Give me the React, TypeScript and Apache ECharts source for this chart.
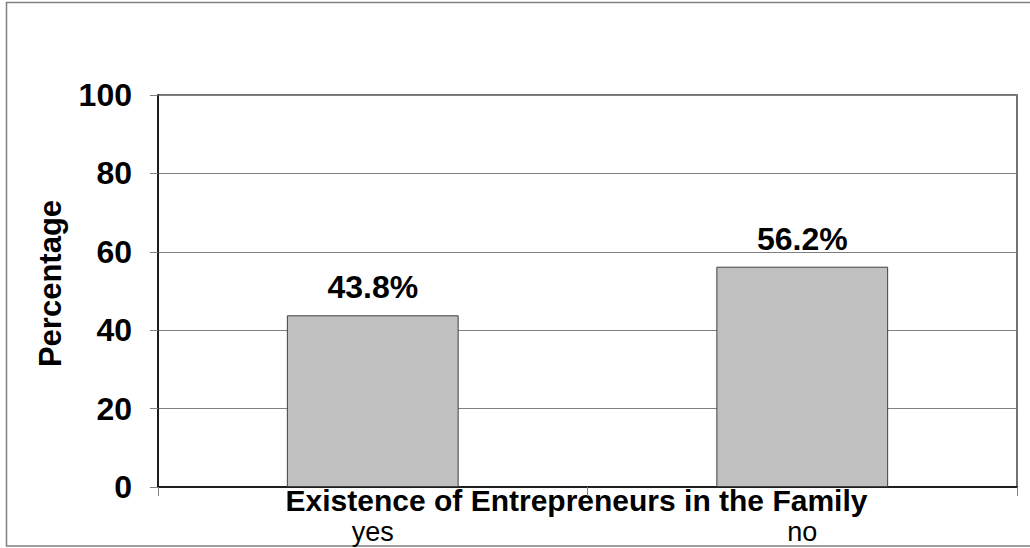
import React, { useEffect, useRef } from "react";
import * as echarts from "echarts";

const categories = ["yes", "no"];
const values = [43.8, 56.2];
const yTicks = { min: 0, max: 100, interval: 20 };
const xTitle = "Existence of Entrepreneurs in the Family";
const yTitle = "Percentage";

export default function App() {
  const ref = useRef<HTMLDivElement>(null);
  useEffect(() => {
    document.body.style.margin = "0";
    const chart = echarts.init(ref.current!, null, { renderer: "svg" });
    const font = "'Liberation Sans', Arial, sans-serif";
    chart.setOption({
      animation: false,
      backgroundColor: "#ffffff",
      grid: {
        left: 158,
        right: 13,
        top: 95,
        bottom: 61,
        show: true,
        borderColor: "#444444",
        borderWidth: 1.5,
        backgroundColor: "transparent",
      },
      xAxis: {
        type: "category",
        data: categories,
        boundaryGap: true,
        axisLine: { lineStyle: { color: "#000000", width: 1.5 } },
        axisTick: { show: true, length: 9, lineStyle: { color: "#808080", width: 1 } },
        axisLabel: {
          fontFamily: font,
          fontSize: 27,
          color: "#000000",
          margin: 31,
          lineHeight: 27,
        },
      },
      yAxis: {
        type: "value",
        min: yTicks.min,
        max: yTicks.max,
        interval: yTicks.interval,
        axisLine: { show: true, lineStyle: { color: "#000000", width: 1.5 } },
        axisTick: { show: true, length: 8, lineStyle: { color: "#808080", width: 1 } },
        splitLine: { show: true, lineStyle: { color: "#808080", width: 1 } },
        axisLabel: {
          fontFamily: font,
          fontSize: 32,
          fontWeight: "bold",
          color: "#000000",
          margin: 26,
        },
      },
      series: [
        {
          type: "bar",
          data: values,
          barWidth: "40%",
          itemStyle: { color: "#c0c0c0", borderColor: "#404040", borderWidth: 1 },
          label: {
            show: true,
            position: "top",
            distance: 12,
            formatter: (p: any) => p.value.toFixed(1) + "%",
            fontFamily: font,
            fontSize: 32,
            fontWeight: "bold",
            color: "#000000",
          },
        },
      ],
      graphic: [
        {
          type: "rect",
          shape: { x: 6.5, y: 2.5, width: 1040, height: 543.5 },
          style: { fill: "none", stroke: "#808080", lineWidth: 1.5 },
          silent: true,
          z: -10,
        },
        {
          type: "text",
          x: 576.5,
          y: 500,
          style: {
            text: xTitle,
            fontFamily: font,
            fontSize: 30,
            fontWeight: "bold",
            fill: "#000000",
            align: "center",
            verticalAlign: "middle",
            lineHeight: 30,
          },
        },
        {
          type: "text",
          x: 50.5,
          y: 283.5,
          rotation: Math.PI / 2,
          style: {
            text: yTitle,
            fontFamily: font,
            fontSize: 31,
            fontWeight: "bold",
            fill: "#000000",
            align: "center",
            verticalAlign: "middle",
          },
        },
      ],
    });
    return () => chart.dispose();
  }, []);
  return <div ref={ref} style={{ width: 1030, height: 548 }} />;
}
